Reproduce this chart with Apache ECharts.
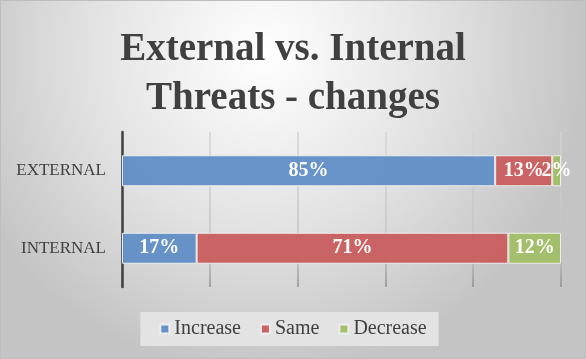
<!DOCTYPE html>
<html>
<head>
<meta charset="utf-8">
<script src="https://cdn.jsdelivr.net/npm/echarts@6/dist/echarts.min.js"></script>
<style>
html,body{margin:0;padding:0;background:#fff;}
#c{width:586px;height:359px;box-sizing:border-box;border:1px solid #bdbdbd;}
</style>
</head>
<body>
<div id="c"></div>
<script>
var categories = ['EXTERNAL', 'INTERNAL'];
var increase = [85, 17];
var same = [13, 71];
var decrease = [2, 12];
var seriesNames = ['Increase', 'Same', 'Decrease'];
var xTicks = [0, 20, 40, 60, 80, 100];

var chart = echarts.init(document.getElementById('c'), null, {renderer: 'canvas'});
var serif = 'Liberation Serif';
var colors = ['#6390C6', '#C96060', '#A3BF68'];

function mk(name, data, color) {
  return {
    name: name, type: 'bar', stack: 'all', data: data,
    barCategoryGap: '60%',
    itemStyle: {color: color, borderColor: '#eeeeee', borderWidth: 1, opacity: 0.97},
    label: {show: true, position: 'inside', formatter: '{c}%', color: '#ffffff',
      fontFamily: serif, fontWeight: 'bold', fontSize: 20}
  };
}

chart.setOption({
  textStyle: {fontFamily: serif},
  backgroundColor: {
    type: 'radial', x: 0.45, y: 0.15, r: 0.9,
    colorStops: [{offset: 0, color: '#ffffff'}, {offset: 0.55, color: '#e2e2e2'}, {offset: 1, color: '#c4c4c4'}]
  },
  title: {
    text: 'External vs. Internal\nThreats - changes',
    left: 'center', top: 19,
    textStyle: {fontFamily: serif, fontWeight: 'bold', fontSize: 39, color: '#404040', lineHeight: 49}
  },
  legend: {
    data: seriesNames, bottom: 12, left: 'center',
    itemWidth: 9, itemHeight: 9, itemGap: 19,
    backgroundColor: '#e3e3e3', padding: [7, 12, 7, 19],
    formatter: '{t|{name}}',
    textStyle: {fontFamily: serif, fontSize: 20, color: '#404040',
      rich: {t: {fontFamily: serif, fontSize: 20, color: '#404040'}}},
    icon: 'rect'
  },
  grid: {left: 121, right: 24, top: 131, bottom: 71, containLabel: false},
  xAxis: {
    type: 'value', min: xTicks[0], max: xTicks[xTicks.length - 1], interval: 20,
    axisLabel: {show: false}, axisLine: {show: false}, axisTick: {show: false},
    splitLine: {show: true, lineStyle: {width: 1.5, color: {
      type: 'linear', x: 0, y: 131, x2: 0, y2: 288, global: true,
      colorStops: [{offset: 0, color: '#d4d4d4'}, {offset: 0.8, color: '#c0c0c0'}, {offset: 1, color: '#8a8a8a'}]
    }}}
  },
  yAxis: {
    type: 'category', data: categories, inverse: true,
    axisLine: {show: true, lineStyle: {color: '#404040', width: 2.5}},
    axisTick: {show: false},
    axisLabel: {fontFamily: serif, fontSize: 17, color: '#404040', margin: 16}
  },
  series: [
    mk(seriesNames[0], increase, colors[0]),
    mk(seriesNames[1], same, colors[1]),
    mk(seriesNames[2], decrease, colors[2])
  ]
});
</script>
</body>
</html>
